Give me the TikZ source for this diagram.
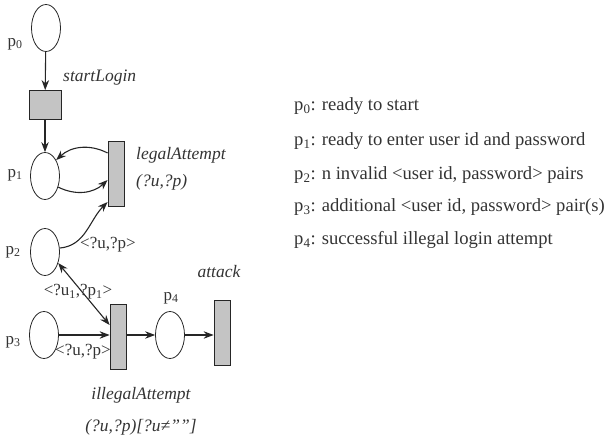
\documentclass[tikz,border=0pt]{standalone}
\usepackage{fontspec}
\setmainfont{Liberation Serif}
\usepackage{tikz}
\usetikzlibrary{arrows.meta,positioning,shapes.geometric}
\definecolor{TransFill}{HTML}{C4C4C4}
\definecolor{NetLine}{HTML}{262626}
\definecolor{TextCol}{HTML}{333333}

\begin{document}
\begin{tikzpicture}[>={Stealth[length=10pt,width=7.5pt]}, x=1pt, y=-1pt]
  \tikzstyle{placec}=[draw=NetLine, ellipse, line width=0.8pt,
               minimum width=29pt, minimum height=47pt, inner sep=0pt]
  \tikzstyle{transb}=[draw=NetLine, fill=TransFill, line width=0.8pt,
               minimum width=16pt, minimum height=65pt, inner sep=0pt]
  \tikzstyle{flow}=[->, draw=NetLine, line width=1.1pt]
  \tikzstyle{lab}=[text=TextCol, inner sep=1pt, font=\fontsize{17}{19}\selectfont]
  \tikzstyle{tlab}=[lab, font=\fontsize{17.5}{19}\selectfont\itshape]
  \tikzstyle{leg}=[lab, anchor=west, font=\fontsize{18.6}{20}\selectfont]
  \useasboundingbox (0,0) rectangle (608,441);
  % places
  \node[placec] (p0) at (46,28) {};
  \node[placec] (p1) at (45,176) {};
  \node[placec] (p2) at (45,252) {};
  \node[placec] (p3) at (44,335) {};
  \node[placec] (p4) at (170,335) {};
  \node[lab] (p0lbl) at (15,44) {p\textsubscript{0}};
  \node[lab] (p1lbl) at (15,175) {p\textsubscript{1}};
  \node[lab] (p2lbl) at (13,252) {p\textsubscript{2}};
  \node[lab] (p3lbl) at (13,342) {p\textsubscript{3}};
  \node[lab] (p4lbl) at (171,298) {p\textsubscript{4}};
  % transitions
  \node[transb, minimum width=32pt, minimum height=29pt] (startLogin) at (45,105) {};
  \node[transb] (legalAtt) at (116,174) {};
  \node[transb] (illegalAtt) at (118,337) {};
  \node[transb] (attack) at (222,333) {};
  \node[tlab, anchor=west] (startLbl) at (62,78) {startLogin};
  \node[tlab, anchor=west] (legalLbl) at (135,155) {legalAttempt};
  \node[tlab, anchor=west] (legalArg) at (135,182) {(?u,?p)};
  \node[tlab] (attackLbl) at (219,272) {attack};
  \node[tlab] (illegalLbl) at (141,395) {illegalAttempt};
  \node[tlab] (illegalArg) at (141,427) {(?u,?p)[?u≠""]};
  % arcs
  \draw[flow] (p0) -- (startLogin);
  \draw[flow] (startLogin) -- (p1);
  \draw[flow] ([yshift=21pt]legalAtt.west) to[bend right=35] (p1.55);
  \draw[flow] (p1.-40) to[bend right=35] ([yshift=-6pt]legalAtt.west);
  \draw[flow] (p2.15) to[out=5, in=-135] ([yshift=-28pt]legalAtt.west);
  \draw[flow, <->] (p2.-40) -- ([yshift=12pt]illegalAtt.west);
  \draw[flow] (p3.east) -- (p3.east -| illegalAtt.west);
  \draw[flow] (illegalAtt.east |- p4) -- (p4);
  \draw[flow] (p4) -- (p4 -| attack.west);
  \node[lab] (arcA) at (108,245) {<?u,?p>};
  \node[lab] (arcB) at (78,292) {<?u\textsubscript{1},?p\textsubscript{1}>};
  \node[lab] (arcC) at (83,352) {<?u,?p>};
  % legend
  \node[leg] (leg0) at (293,106) {p\textsubscript{0}: ready to start};
  \node[leg] (leg1) at (293,141) {p\textsubscript{1}: ready to enter user id and password};
  \node[leg] (leg2) at (293,175) {p\textsubscript{2}: n invalid <user id, password> pairs};
  \node[leg] (leg3) at (293,207) {p\textsubscript{3}: additional <user id, password> pair(s)};
  \node[leg] (leg4) at (293,240) {p\textsubscript{4}: successful illegal login attempt};
\end{tikzpicture}
\end{document}
